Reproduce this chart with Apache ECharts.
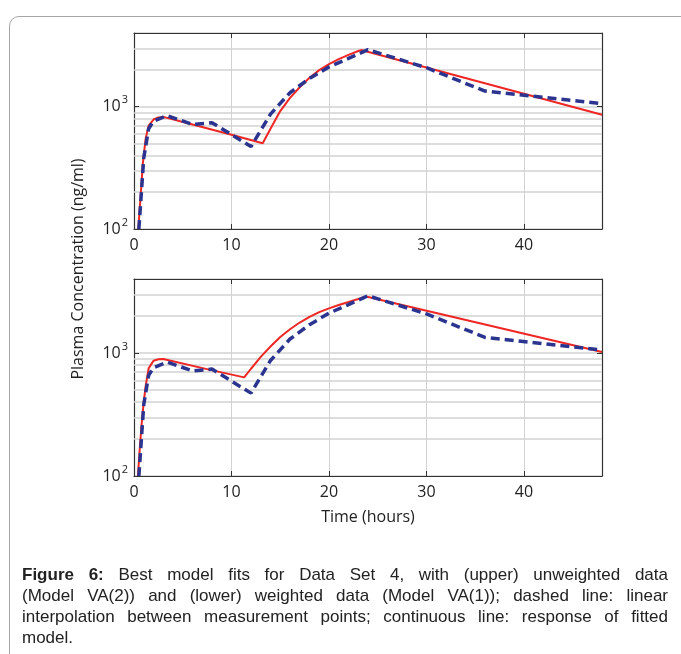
<!DOCTYPE html>
<html>
<head>
<meta charset="utf-8">
<script src="https://cdn.jsdelivr.net/npm/echarts@6/dist/echarts.min.js"></script>
<style>
  html, body { margin: 0; padding: 0; background: #ffffff; }
  #wrap { position: relative; width: 681px; height: 654px; overflow: hidden; background: #fff; }
  #frame { position: absolute; left: 9px; top: 16px; width: 700px; height: 700px; border: 1px solid #a6a6a6; border-radius: 10px; box-sizing: border-box; }
  #chart { position: absolute; left: 0; top: 0; width: 681px; height: 654px; }
  #caption { position: absolute; left: 22px; top: 564px; width: 646px; font-family: "Liberation Sans", Arial, sans-serif; font-size: 17px; line-height: 21px; color: #222; }
  #caption .ln { white-space: nowrap; text-align: justify; text-align-last: justify; }
  #caption .last { text-align: left; text-align-last: left; }
</style>
</head>
<body>
<div id="wrap">
  <div id="frame"></div>
  <div id="chart"></div>
  <div id="caption">
    <div class="ln"><b>Figure 6:</b> Best model fits for Data Set 4, with (upper) unweighted data</div>
    <div class="ln">(Model VA(2)) and (lower) weighted data (Model VA(1)); dashed line: linear</div>
    <div class="ln">interpolation between measurement points; continuous line: response of fitted</div>
    <div class="ln last">model.</div>
  </div>
</div>
<script>
// Measured data (dashed line, linear interpolation between measurement points)
const timeMeasured = [0.5, 1, 1.5, 2, 3.4, 6, 8, 12, 14, 16, 18, 20, 22, 24, 30, 36, 48];
const concMeasured = [100, 380, 660, 760, 845, 715, 740, 472, 870, 1300, 1700, 2110, 2480, 2920, 2080, 1340, 1060];

// Upper: fitted model, unweighted data (Model VA(2))
const timeFitUpper = [0.44, 0.7, 0.9, 1.2, 1.5, 2, 2.5, 3, 6, 10, 13.2, 14, 15, 16, 17, 18, 19, 20, 21, 22, 23, 23.3, 48];
const concFitUpper = [100, 195, 340, 550, 700, 785, 815, 825, 714, 589, 503, 660, 920, 1180, 1440, 1720, 1990, 2230, 2450, 2650, 2850, 2900, 860];

// Lower: fitted model, weighted data (Model VA(1))
const timeFitLower = [0.4, 0.6, 0.8, 1.0, 1.2, 1.5, 2, 2.5, 3, 7.7, 11.3, 12, 13, 14, 15, 16, 17, 18, 19, 20, 21, 22, 23, 23.8, 48];
const concFitLower = [100, 170, 275, 400, 540, 750, 865, 890, 895, 733, 634, 745, 930, 1130, 1350, 1560, 1770, 1970, 2150, 2310, 2460, 2600, 2750, 2880, 1020];

// Axis settings
const xMin = 0, xMax = 48, xInterval = 10;
const yMin = 100, yMax = 4000;
const minorGridValues = [200, 300, 400, 500, 600, 700, 800, 900, 2000, 3000];

const xTitle = 'Time (hours)';
const yTitle = 'Plasma Concentration (ng/ml)';

function pairs(t, v) { return t.map((x, i) => [x, v[i]]); }

const FONT = '"Open Sans", "Noto Sans", sans-serif';
const AXIS_COLOR = '#333333';
const GRID_COLOR = '#d2d2d2';
const RED = '#ee2624';
const BLUE = '#2b3590';

const grids = [
  { left: 134, top: 33, width: 468, height: 196 },
  { left: 134, top: 279, width: 468, height: 197 }
];

function makeX(gi, pos, withLabels, name) {
  return {
    gridIndex: gi, type: 'value', min: xMin, max: xMax, interval: xInterval, position: pos,
    axisLine: { show: true, onZero: false, lineStyle: { color: AXIS_COLOR, width: 1.2 } },
    axisTick: { show: true, inside: true, length: 5, lineStyle: { color: AXIS_COLOR } },
    axisLabel: {
      show: withLabels, margin: 8, fontSize: 16, color: '#222', fontFamily: FONT,
      formatter: v => (v % 10 === 0 ? String(v) : '')
    },
    splitLine: { show: withLabels, lineStyle: { color: GRID_COLOR, width: 1 } },
    name: name || '', nameLocation: 'middle', nameGap: 33,
    nameTextStyle: { fontSize: 16, color: '#222', fontFamily: FONT }
  };
}
function makeY(gi, pos, withLabels) {
  return {
    gridIndex: gi, type: 'log', logBase: 10, min: yMin, max: yMax, position: pos,
    axisLine: { show: true, onZero: false, lineStyle: { color: AXIS_COLOR, width: 1.2 } },
    axisTick: { show: true, inside: true, length: 5, lineStyle: { color: AXIS_COLOR } },
    axisLabel: {
      show: withLabels, margin: 6, color: '#222', fontFamily: FONT,
      formatter: v => {
        const l = Math.log10(v), e = Math.round(l);
        if (Math.abs(l - e) > 1e-6) return '';
        return '{b|10}{s|' + e + '}';
      },
      rich: {
        b: { fontSize: 16, fontFamily: FONT, color: '#222' },
        s: { fontSize: 11, fontFamily: FONT, color: '#222', padding: [0, 0, 13, 1] }
      }
    },
    splitLine: { show: withLabels, lineStyle: { color: GRID_COLOR, width: 1.5 } }
  };
}

function gridSeries(xi, yi) {
  return {
    type: 'line', xAxisIndex: xi, yAxisIndex: yi, data: [], silent: true, z: 1,
    markLine: {
      silent: true, symbol: 'none', animation: false, z: 1,
      label: { show: false },
      lineStyle: { color: GRID_COLOR, width: 1.6, type: 'solid' },
      emphasis: { disabled: true },
      data: minorGridValues.map(v => ({ yAxis: v }))
    }
  };
}
function fitSeries(xi, yi, t, v) {
  return {
    type: 'line', xAxisIndex: xi, yAxisIndex: yi, data: pairs(t, v), showSymbol: false, z: 3,
    lineStyle: { color: RED, width: 2 }, silent: true, clip: true
  };
}
function measSeries(xi, yi) {
  return {
    type: 'line', xAxisIndex: xi, yAxisIndex: yi, data: pairs(timeMeasured, concMeasured), showSymbol: false, z: 4,
    lineStyle: { color: BLUE, width: 3.5, type: [9, 5] }, silent: true, clip: true
  };
}

const chart = echarts.init(document.getElementById('chart'), null, { renderer: 'canvas' });
chart.setOption({
  animation: false,
  backgroundColor: 'transparent',
  grid: grids,
  xAxis: [makeX(0, 'bottom', true), makeX(0, 'top', false), makeX(1, 'bottom', true, xTitle), makeX(1, 'top', false)],
  yAxis: [makeY(0, 'left', true), makeY(0, 'right', false), makeY(1, 'left', true), makeY(1, 'right', false)],
  graphic: [{
    type: 'text', x: 78, y: 269, rotation: Math.PI / 2,
    style: { text: yTitle, fontSize: 16, fontFamily: FONT, fill: '#222', align: 'center', verticalAlign: 'middle' }
  }],
  series: [
    gridSeries(0, 0), gridSeries(2, 2),
    fitSeries(0, 0, timeFitUpper, concFitUpper), measSeries(0, 0),
    fitSeries(2, 2, timeFitLower, concFitLower), measSeries(2, 2)
  ]
});
</script>
</body>
</html>
